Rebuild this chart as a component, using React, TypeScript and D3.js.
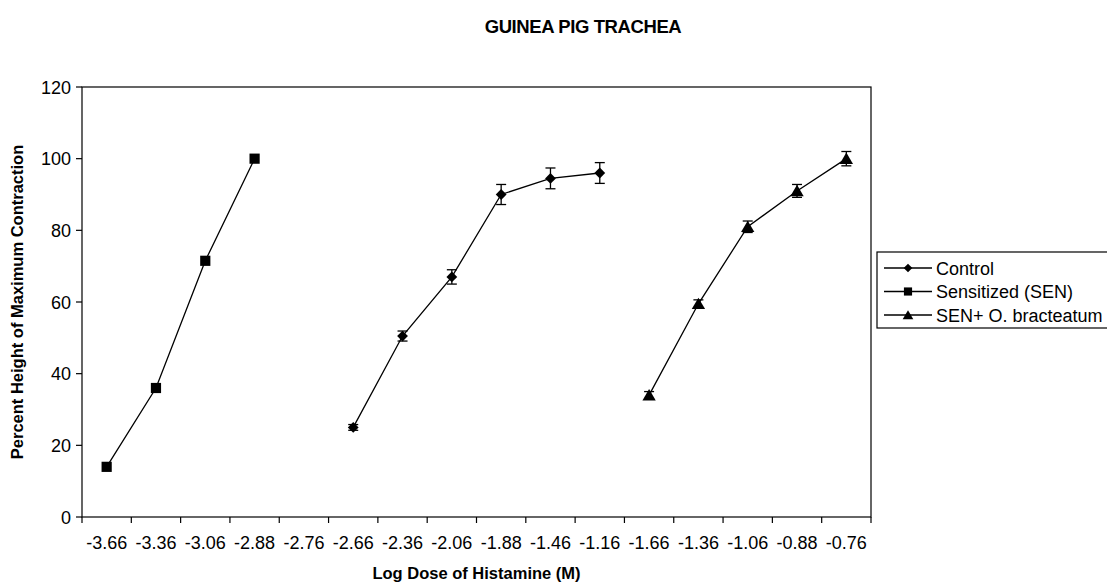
import * as d3 from "d3";
import * as React from "react";

const categories = [
  "-3.66", "-3.36", "-3.06", "-2.88", "-2.76", "-2.66", "-2.36", "-2.06",
  "-1.88", "-1.46", "-1.16", "-1.66", "-1.36", "-1.06", "-0.88", "-0.76",
];

const sensitizedDose = ["-3.66", "-3.36", "-3.06", "-2.88"];
const sensitizedValues = [14, 36, 71.5, 100];

const controlDose = ["-2.66", "-2.36", "-2.06", "-1.88", "-1.46", "-1.16"];
const controlValues = [25, 50.5, 67, 90, 94.5, 96];
const controlErrors = [0.8, 1.4, 2, 2.8, 2.9, 2.9];

const senODose = ["-1.66", "-1.36", "-1.06", "-0.88", "-0.76"];
const senOValues = [34, 59.5, 81, 91, 100];
const senOErrors = [1, 1.1, 1.6, 1.8, 2];

const yTicks = [0, 20, 40, 60, 80, 100, 120];

interface Pt {
  dose: string;
  value: number;
  err: number;
}

interface Series {
  name: string;
  marker: string; // unit marker path, scaled where drawn
  scale: number;
  points: Pt[];
}

// unit markers (half-size about 1)
const diamondPath = "M0,-1L1,0L0,1L-1,0Z";
const squarePath = "M-1,-1H1V1H-1Z";
const trianglePath = "M0,-1.05L1.15,0.9H-1.15Z";

const zip = (doses: string[], values: number[], errs?: number[]): Pt[] =>
  doses.map((dose, i) => ({ dose, value: values[i], err: errs ? errs[i] : 0 }));

const series: Series[] = [
  { name: "Control", marker: diamondPath, scale: 5.4, points: zip(controlDose, controlValues, controlErrors) },
  { name: "Sensitized (SEN)", marker: squarePath, scale: 5.1, points: zip(sensitizedDose, sensitizedValues) },
  { name: "SEN+ O. bracteatum", marker: trianglePath, scale: 5.8, points: zip(senODose, senOValues, senOErrors) },
];

const W = 1107;
const H = 583;
const left = 82;
const right = 871;
const top = 87;
const bottom = 517;
const font = "'Liberation Sans', Arial, sans-serif";

export default function App() {
  const x = d3.scaleBand<string>().domain(categories).range([left, right]);
  const y = d3.scaleLinear().domain([0, 120]).range([bottom, top]);
  const cx = (d: string) => x(d)! + x.bandwidth() / 2;
  const line = d3
    .line<Pt>()
    .x((d) => cx(d.dose))
    .y((d) => y(d.value));

  return (
    <svg
      width={W}
      height={H}
      style={{ position: "absolute", left: 0, top: 0, background: "#fff" }}
      fontFamily={font}
    >
      <text x={583} y={33} textAnchor="middle" fontWeight="bold" fontSize={18.5} letterSpacing={-0.4}>
        GUINEA PIG TRACHEA
      </text>

      {/* plot frame */}
      <rect x={left} y={top} width={right - left} height={bottom - top} fill="none" stroke="#000" strokeWidth={1.2} />

      {/* y axis */}
      {yTicks.map((t) => (
        <g key={t}>
          <line x1={left - 6} x2={left} y1={y(t)} y2={y(t)} stroke="#000" strokeWidth={1.2} />
          <text x={left - 11} y={y(t) + 6.5} textAnchor="end" fontSize={18}>
            {t}
          </text>
        </g>
      ))}

      {/* x axis ticks */}
      {categories.map((c) => (
        <g key={c}>
          <line x1={x(c)!} x2={x(c)!} y1={bottom} y2={bottom + 6} stroke="#000" strokeWidth={1.2} />
          <text x={cx(c)} y={bottom + 32} textAnchor="middle" fontSize={18}>
            {c}
          </text>
        </g>
      ))}
      <line x1={right} x2={right} y1={bottom} y2={bottom + 6} stroke="#000" strokeWidth={1.2} />

      <text x={(left + right) / 2} y={579} textAnchor="middle" fontWeight="bold" fontSize={16.5}>
        Log Dose of Histamine (M)
      </text>
      <text
        transform={`translate(23, ${(top + bottom) / 2}) rotate(-90)`}
        textAnchor="middle"
        fontWeight="bold"
        fontSize={16.5}
      >
        Percent Height of Maximum Contraction
      </text>

      {/* series */}
      {series.map((s) => (
        <g key={s.name}>
          <path d={line(s.points)!} fill="none" stroke="#000" strokeWidth={1.3} />
          {s.points
            .filter((p) => p.err > 0)
            .map((p) => (
              <g key={p.dose} stroke="#000" strokeWidth={1.3}>
                <line x1={cx(p.dose)} x2={cx(p.dose)} y1={y(p.value - p.err)} y2={y(p.value + p.err)} />
                <line x1={cx(p.dose) - 5} x2={cx(p.dose) + 5} y1={y(p.value - p.err)} y2={y(p.value - p.err)} />
                <line x1={cx(p.dose) - 5} x2={cx(p.dose) + 5} y1={y(p.value + p.err)} y2={y(p.value + p.err)} />
              </g>
            ))}
          {s.points.map((p) => (
            <path
              key={p.dose}
              d={s.marker}
              transform={`translate(${cx(p.dose)}, ${y(p.value)}) scale(${s.scale})`}
              fill="#000"
            />
          ))}
        </g>
      ))}

      {/* legend */}
      <rect x={877} y={252} width={260} height={76} fill="#fff" stroke="#000" strokeWidth={1.2} />
      {series.map((s, i) => {
        const ly = 268 + i * 23.5;
        return (
          <g key={s.name}>
            <line x1={884} x2={932} y1={ly} y2={ly} stroke="#000" strokeWidth={1.3} />
            <path d={s.marker} transform={`translate(908, ${ly}) scale(${s.scale * 0.8})`} fill="#000" />
            <text x={936} y={ly + 6.5} fontSize={18}>
              {s.name}
            </text>
          </g>
        );
      })}
    </svg>
  );
}
